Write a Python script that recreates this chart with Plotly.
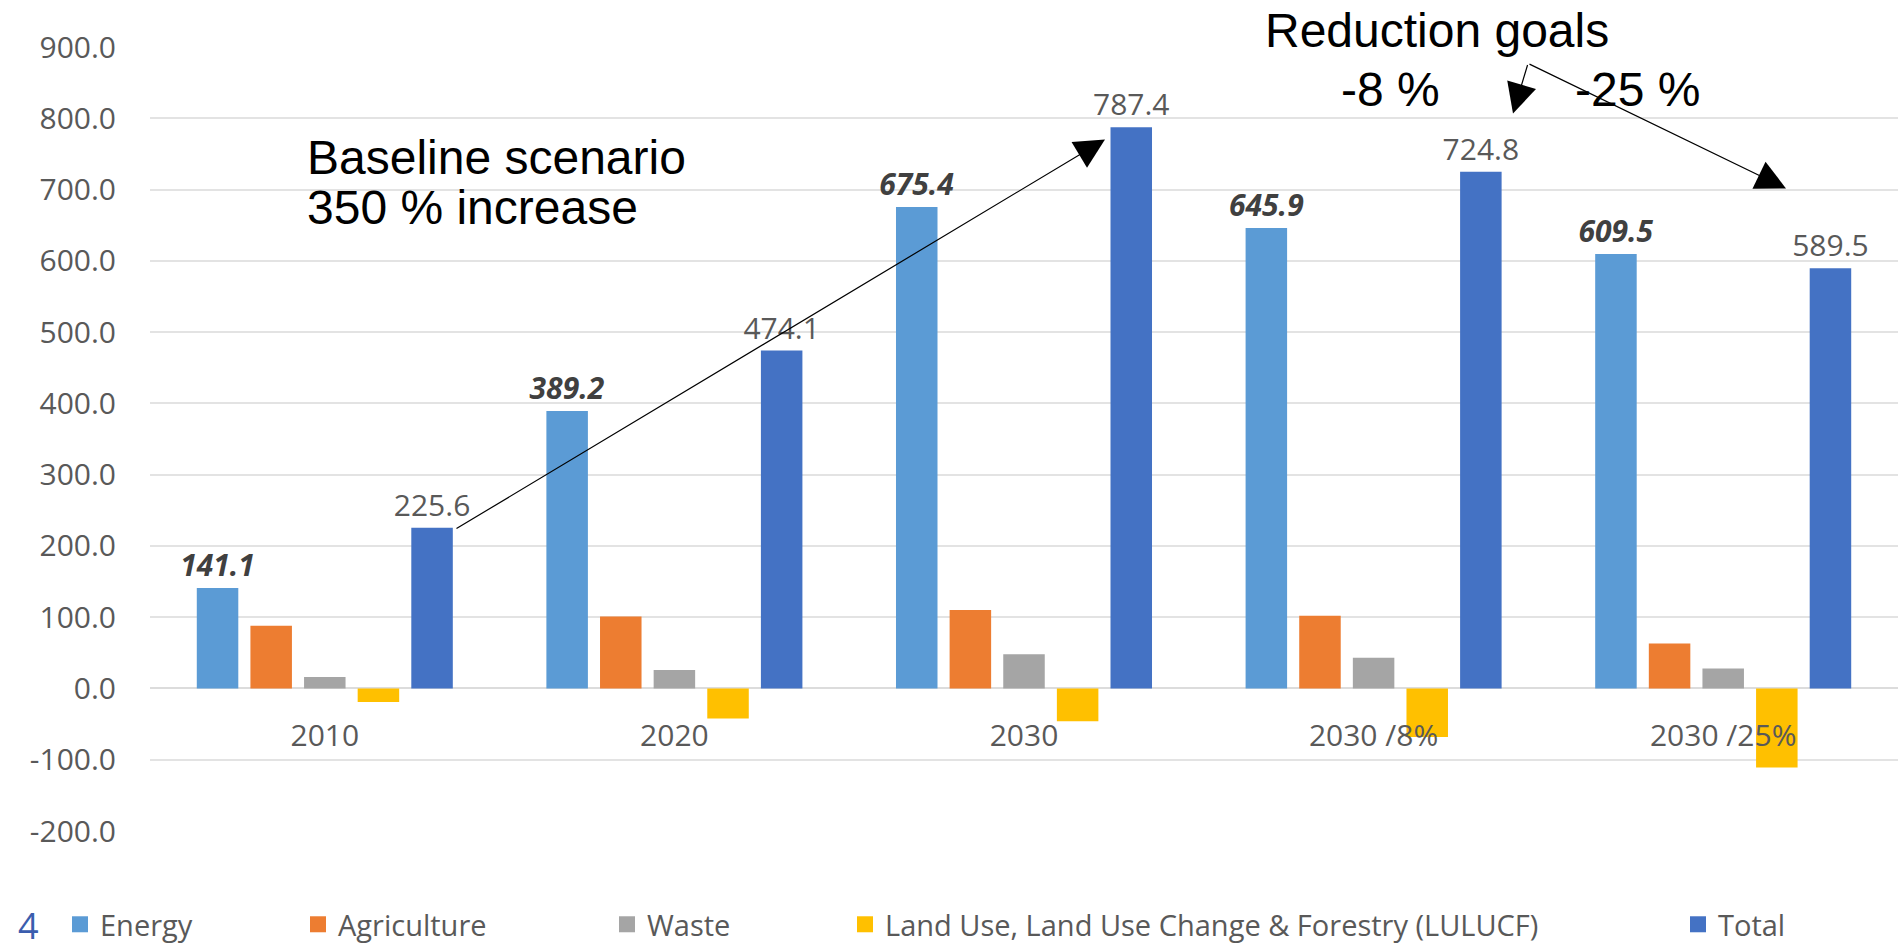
import plotly.graph_objects as go

categories = ["2010", "2020", "2030", "2030 /8%", "2030 /25%"]
energy = [141.1, 389.2, 675.4, 645.9, 609.5]
agriculture = [88, 101, 110, 102, 63]
waste = [16, 26, 48, 43, 28]
lulucf = [-19, -42, -46, -68, -111]
total = [225.6, 474.1, 787.4, 724.8, 589.5]
y_tick_values = [-200, -100, 0, 100, 200, 300, 400, 500, 600, 700, 800, 900]
y_tick_labels = ["-200.0", "-100.0", "0.0", "100.0", "200.0", "300.0",
                 "400.0", "500.0", "600.0", "700.0", "800.0", "900.0"]

series_names = ["Energy", "Agriculture", "Waste",
                "Land Use, Land Use Change & Forestry (LULUCF)", "Total"]
series_values = [energy, agriculture, waste, lulucf, total]
series_colors = ["#5B9BD5", "#ED7D31", "#A5A5A5", "#FFC000", "#4472C4"]

# layout in pixels
W, H = 1904, 951
L, R, T, B = 150, 1898, 46.5, 831
PW, PH = R - L, B - T


def px(x):
    return (x - L) / PW


def py(y):
    return (B - y) / PH


FONT = "Open Sans"
GRAY = "#595959"

fig = go.Figure()
legend_names = ["legend", "legend2", "legend3", "legend4", "legend5"]
for i, (name, vals, col) in enumerate(zip(series_names, series_values, series_colors)):
    kw = {}
    if name == "Energy":
        kw = dict(text=[f"{v:.1f}" for v in vals], textposition="outside",
                  textfont=dict(family=FONT, size=30, color="#404040",
                                weight="bold", style="italic"))
    elif name == "Total":
        kw = dict(text=[f"{v:.1f}" for v in vals], textposition="outside",
                  textfont=dict(family=FONT, size=30, color=GRAY))
    fig.add_trace(go.Bar(x=categories, y=vals, name=name, marker_color=col,
                         marker_line_width=0, cliponaxis=False, constraintext="none",
                         showlegend=False, **kw))
    # legend-only entry with a larger square swatch
    fig.add_trace(go.Scatter(x=[None], y=[None], mode="markers", name=name,
                             marker=dict(symbol="square", size=16, color=col),
                             legend=legend_names[i], showlegend=True, hoverinfo="skip"))

legend_x = [60, 298, 607, 845, 1678]
legend_layout = {}
for i, ln in enumerate(legend_names):
    legend_layout[ln] = dict(x=px(legend_x[i]), y=py(950), xanchor="left", yanchor="bottom",
                             orientation="h", font=dict(family=FONT, size=29, color=GRAY),
                             bgcolor="rgba(0,0,0,0)", borderwidth=0)

fig.update_layout(
    width=W, height=H,
    margin=dict(l=L, r=W - R, t=T, b=H - B, pad=0, autoexpand=False),
    paper_bgcolor="white", plot_bgcolor="white",
    barmode="group", bargap=0.233, bargroupgap=0.226,
    showlegend=True,
    **legend_layout,
)

fig.update_yaxes(range=[-200, 900], tickvals=y_tick_values, ticktext=y_tick_labels,
                 showgrid=True, gridcolor="#E3E3E3", gridwidth=1.5,
                 zeroline=True, zerolinecolor="#DCDCDC", zerolinewidth=1.5,
                 ticks="outside", ticklen=27, tickcolor="rgba(0,0,0,0)",
                 tickfont=dict(family=FONT, size=30, color=GRAY), showline=False)

fig.update_xaxes(anchor="free", position=200 / 1100, showline=False, showgrid=False,
                 ticks="outside", ticklen=21, tickcolor="rgba(0,0,0,0)",
                 tickfont=dict(family=FONT, size=30, color=GRAY))

ann_font = dict(family="Liberation Sans", size=48, color="black")
arrow = dict(showarrow=True, arrowhead=2, arrowsize=5, arrowwidth=1.2, arrowcolor="black",
             text="")
annotations = [
    dict(text="Baseline scenario", x=px(305), y=py(157), xanchor="left", yanchor="middle",
         showarrow=False, font=ann_font),
    dict(text="350 % increase", x=px(305), y=py(207), xanchor="left", yanchor="middle",
         showarrow=False, font=ann_font),
    dict(text="Reduction goals", x=px(1436.5), y=py(30), xanchor="center", yanchor="middle",
         showarrow=False, font=ann_font),
    dict(text="-8 %", x=px(1390), y=py(89), xanchor="center", yanchor="middle",
         showarrow=False, font=ann_font),
    dict(text="-25 %", x=px(1637), y=py(89), xanchor="center", yanchor="middle",
         showarrow=False, font=ann_font),
    dict(text="4", x=px(28), y=py(951), xanchor="center", yanchor="bottom", borderpad=0,
         showarrow=False, font=dict(family=FONT, size=36, color="#3A5DAE")),
    dict(x=px(1105), y=py(139), ax=455 - 1105, ay=529 - 139, **arrow),
    dict(x=px(1513), y=py(113), ax=1528 - 1513, ay=63 - 113, **arrow),
    dict(x=px(1786), y=py(188), ax=1528 - 1786, ay=63 - 188, **arrow),
]
for a in annotations:
    a.setdefault("xref", "paper")
    a.setdefault("yref", "paper")
fig.update_layout(annotations=annotations)

fig.write_html("out.html")
